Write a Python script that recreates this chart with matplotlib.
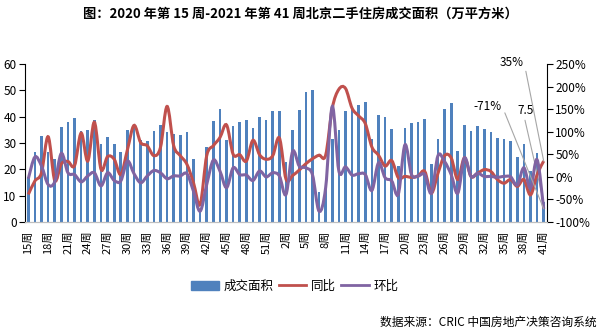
import numpy as np
import matplotlib
matplotlib.use("Agg")
import matplotlib.pyplot as plt
from matplotlib.path import Path
from matplotlib.patches import PathPatch, Patch
from matplotlib.lines import Line2D

plt.rcParams['font.family'] = ['Noto Sans CJK SC', 'DejaVu Sans']

# 周次: 2020年第15-52周, 2021年第1-41周
weeks = list(range(15, 53)) + list(range(1, 42))
week_labels = [f"{w}周" for w in weeks]

# 成交面积 (万平方米)
area = [17.0, 26.6, 32.7, 26.6, 24.0, 36.2, 38.1, 39.6, 34.6, 35.1,
        38.6, 29.7, 32.4, 29.7, 26.6, 35.1, 36.2, 31.2, 30.8, 34.6,
        36.9, 34.2, 33.4, 33.0, 34.2, 24.0, 5.0, 28.5, 38.4, 42.9,
        31.1, 36.5, 38.0, 38.7, 35.7, 39.9, 38.7, 42.2, 42.2, 22.8,
        35.0, 42.6, 49.5, 50.2, 11.4, 12.6, 31.6, 35.0, 42.3, 43.0,
        44.5, 45.7, 31.6, 40.7, 40.0, 35.4, 21.3, 35.8, 37.7, 38.1,
        39.2, 22.1, 31.6, 43.0, 45.3, 27.0, 36.9, 34.6, 36.5, 35.4,
        34.3, 32.0, 31.6, 30.8, 24.7, 29.7, 19.4, 26.3, 7.5]

# 同比 (%)
yoy = [-39, -9, 9, 89, -8, 29, 34, 25, 97, 35,
       121, 17, 45, 39, 5, 60, 114, 76, 69, 47,
       65, 156, 69, 47, 28, -13, -61, 47, 69, 87,
       115, 50, 49, 35, 81, 49, 39, 47, 86, -5,
       3, 15, 29, 40, 48, 48, 152, 194, 196, 152,
       135, 118, 66, 48, 24, 36, -2, 1, -1, 2,
       12, -36, 8, 47, 42, -6, 42, 1, 8, 16,
       12, -6, -14, -6, -21, -6, -40, 5, 35]

# 环比 (%)
mom = [-4, 44, 24, -17, -11, 52, 9, 5, -11, 2,
       9, -20, 9, -8, -9, 35, 7, -13, 2, 14,
       9, -4, 2, 2, 7, -32, -76, -17, 37, 13,
       -24, 20, 5, 4, -8, 13, 0, 9, 2, -39,
       56, 24, 20, 5, -76, -24, 156, 13, 22, 4,
       7, 5, -30, 31, -2, -9, -38, 71, 5, 2,
       5, -36, 47, 34, 5, -36, 42, 1, 8, 1,
       1, -1, 1, 0, -18, 20, -25, 38, -71]

c_bar = '#4F81BD'
c_yoy = '#C0504D'
c_mom = '#8064A2'
c_lead = '#A6A6A6'


# 平滑曲线 (类似 Excel 的平滑线)
def smooth_path(x, y):
    n = len(x)
    verts = [(x[0], y[0])]
    codes = [Path.MOVETO]
    for i in range(n - 1):
        a = i - 1 if i > 0 else i
        d = i + 2 if i + 2 < n else i + 1
        c1 = (x[i] + (x[i + 1] - x[a]) / 6, y[i] + (y[i + 1] - y[a]) / 6)
        c2 = (x[i + 1] - (x[d] - x[i]) / 6, y[i + 1] - (y[d] - y[i]) / 6)
        verts += [c1, c2, (x[i + 1], y[i + 1])]
        codes += [Path.CURVE4] * 3
    return Path(verts, codes)


x = np.arange(len(weeks))

fig = plt.figure(figsize=(6.01, 3.32), dpi=100)
ax1 = fig.add_axes([25 / 601, 110 / 332, 522 / 601, 158 / 332])
ax2 = ax1.twinx()

ax1.bar(x, area, width=0.4, color=c_bar, zorder=1)
ax1.set_xlim(-0.5, len(x) - 0.5)
ax1.set_ylim(0, 60)
ax1.set_yticks(range(0, 61, 10))
ax1.set_xticks(x[::3])
ax1.set_xticklabels(week_labels[::3], rotation=90, fontsize=8)
ax1.tick_params(axis='x', length=0, pad=6)
ax1.tick_params(axis='y', labelsize=8.5, length=4, width=0.8, pad=2)

ax2.add_patch(PathPatch(smooth_path(x, yoy), fill=False, edgecolor=c_yoy, lw=2.2, zorder=3))
ax2.add_patch(PathPatch(smooth_path(x, mom), fill=False, edgecolor=c_mom, lw=2.2, zorder=3))
ax2.set_ylim(-100, 250)
ax2.set_yticks(range(-100, 251, 50))
ax2.set_yticklabels([f"{v}%" for v in range(-100, 251, 50)])
ax2.tick_params(axis='y', labelsize=8.5, length=4, width=0.8, pad=2)

for ax in (ax1, ax2):
    ax.spines['top'].set_visible(False)
    ax.spines['bottom'].set_color('#BFBFBF')
    ax.spines['left'].set_linewidth(0.8)
    ax.spines['right'].set_linewidth(0.8)
ax1.spines['right'].set_visible(False)
ax2.spines['left'].set_visible(False)

# 数据标签
lead = dict(arrowstyle='-', color=c_lead, lw=0.8, shrinkA=0, shrinkB=0)
ax2.annotate(f"{yoy[-1]}%", xy=(x[-1], yoy[-1]), xytext=(512, 270),
             textcoords='figure pixels', ha='center', va='center', fontsize=8.5,
             arrowprops=dict(lead, relpos=(1, 0.5)))
ax2.annotate(f"{mom[-1]}%", xy=(x[-1], mom[-1]), xytext=(488, 226),
             textcoords='figure pixels', ha='center', va='center', fontsize=8.5,
             arrowprops=dict(lead, relpos=(1, 0.5)))
ax1.annotate(f"{area[-1]}", xy=(x[-1], area[-1]), xytext=(526, 221),
             textcoords='figure pixels', ha='center', va='center', fontsize=8.5,
             arrowprops=dict(lead, relpos=(0.4, 0)))

handles = [Patch(color=c_bar, label='成交面积'),
           Line2D([], [], color=c_yoy, lw=2, label='同比'),
           Line2D([], [], color=c_mom, lw=2, label='环比')]
fig.legend(handles=handles, loc='center', bbox_to_anchor=(295 / 601, 1 - 286 / 332),
           ncol=3, frameon=False, fontsize=9, handlelength=2.2, handletextpad=0.4,
           columnspacing=0.4)

fig.text(300 / 601, 1 - 14 / 332, "图：2020 年第 15 周-2021 年第 41 周北京二手住房成交面积（万平方米）",
         ha='center', va='center', fontsize=9.5, fontweight='bold')
fig.text(597 / 601, 1 - 322 / 332, "数据来源：CRIC 中国房地产决策咨询系统",
         ha='right', va='center', fontsize=8.5)

fig.savefig("out.png", dpi=100)
